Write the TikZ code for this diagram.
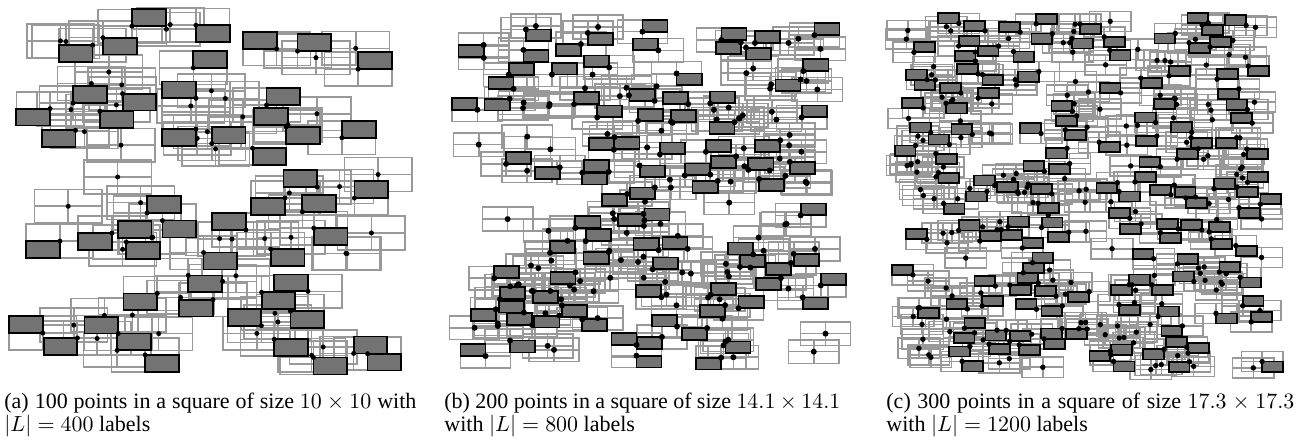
\documentclass[tikz,border=0pt]{standalone}
\usepackage{fontspec}
\setmainfont{Liberation Serif}
\definecolor{candgray}{gray}{0.6}
\definecolor{selfill}{gray}{0.45}
\makeatletter
\newdimen\lb@x \newdimen\lb@y \newdimen\lb@cx \newdimen\lb@cy \newdimen\lb@d
\newcount\lb@n \newcount\lb@k \newcount\lb@N
\newif\iflb@clash \newif\iflb@done
% overlap test of candidate with an already chosen label
\protected\def\lb@rectcheck#1#2{%
  \iflb@clash\else
  \lb@d=\dimexpr#1pt-\lb@cx\relax
  \ifdim\lb@d<1pt \ifdim\lb@d>-1pt
    \lb@d=\dimexpr#2pt-\lb@cy\relax
    \ifdim\lb@d<.5pt \ifdim\lb@d>-.5pt \lb@clashtrue \fi\fi
  \fi\fi\fi}
% test whether a point lies inside the candidate
\protected\def\lb@ptcheck#1#2#3{%
  \iflb@clash\else
  \lb@d=\dimexpr#1pt-\lb@cx\relax
  \ifdim\lb@d>0pt \ifdim\lb@d<1pt
    \lb@d=\dimexpr#2pt-\lb@cy\relax
    \ifdim\lb@d>0pt \ifdim\lb@d<.5pt \lb@clashtrue \fi\fi
  \fi\fi\fi}
\protected\def\lb@rectdraw#1#2{\filldraw[selbox] (#1,#2) rectangle (#1+1,#2+.5);}
\protected\def\lb@candraw#1#2#3{\draw[candbox] (#1-1,#2-.5) rectangle (#1+1,#2+.5)
   (#1-1,#2) -- (#1+1,#2) (#1,#2-.5) -- (#1,#2+.5);}
\protected\def\lb@dotdraw#1#2#3{\fill (#1,#2) circle[radius=\lb@rad];}
\let\lb@R\lb@rectcheck
\let\lb@P\lb@candraw
\def\lb@setcand{%
  \lb@cx=\lb@x \lb@cy=\lb@y
  \ifodd\lb@k \advance\lb@cx -1pt \fi
  \ifnum\lb@k>1 \advance\lb@cy -.5pt \fi}
\def\lb@trycand{%
  \iflb@done\else
    \lb@setcand \lb@clashfalse \lb@sel
    \iflb@clash\else \let\lb@P\lb@ptcheck \lb@pts \fi
    \iflb@clash\else
      \global\lb@donetrue
      \xdef\lb@sel{\lb@sel\lb@R{\strip@pt\lb@cx}{\strip@pt\lb@cy}}%
    \fi
    \advance\lb@k 1 \ifnum\lb@k>3 \lb@k=0 \fi
  \fi}
\protected\def\lb@selpt#1#2#3{%
  \ifnum#3<4
    \lb@x=#1pt \lb@y=#2pt \lb@k=#3\relax
    \global\lb@donefalse
    \lb@trycand\lb@trycand\lb@trycand\lb@trycand
  \fi
  \let\lb@P\lb@selpt}
\def\lb@size{10}
\def\lb@q{4}
\def\lb@iter{%
  \pgfmathsetmacro\lb@tx{rnd*\lb@size}%
  \pgfmathsetmacro\lb@ty{rnd*\lb@size}%
  \pgfmathtruncatemacro\lb@ts{floor(rnd*\lb@q)}%
  \xdef\lb@pts{\lb@pts\lb@P{\lb@tx}{\lb@ty}{\lb@ts}}%
  \advance\lb@n 1
  \ifnum\lb@n<\lb@N \expandafter\lb@iter\fi}
\newcommand\labelpanel[4]{% N, size, dot radius, 4/probability of a label
  \gdef\lb@pts{}\gdef\lb@sel{}%
  \def\lb@size{#2}\def\lb@q{#4}\lb@N=#1\relax \lb@n=0
  \let\lb@R\lb@rectcheck \let\lb@P\lb@candraw
  \lb@iter
  \let\lb@P\lb@selpt \lb@pts
  \def\lb@rad{#3}%
  \let\lb@P\lb@candraw \lb@pts
  \let\lb@R\lb@rectdraw \lb@sel
  \let\lb@P\lb@dotdraw \lb@pts
  \let\lb@R\lb@rectcheck \let\lb@P\lb@candraw}
\makeatother
\tikzset{
  candbox/.style={draw=candgray, line width=0.8pt},
  selbox/.style={fill=selfill, draw=black, line width=0.9pt},
  captext/.style={anchor=base west, inner sep=0pt, font=\fontsize{11}{13}\selectfont}
}
\begin{document}
\begin{tikzpicture}[x=0.5pt, y=-0.5pt]
\useasboundingbox (0,0) rectangle (1301,441);
\pgfmathsetseed{4711}
\begin{scope}[shift={(41.75,23.9)}, x=16.875pt, y=-16.85pt]
  \labelpanel{100}{10}{1.25pt}{6.3}
\end{scope}
\begin{scope}[shift={(472.1,25.9)}, x=12.55pt, y=-11.85pt]
  \labelpanel{200}{14.1}{1.5pt}{7}
\end{scope}
\begin{scope}[shift={(904.8,21.1)}, x=10.41pt, y=-10.08pt]
  \labelpanel{300}{17.3}{1.35pt}{7.3}
\end{scope}
\node[captext] (capa1) at (4,408) {\makebox[206pt][s]{(a) 100 points in a square of size $10\times10$ with}};
\node[captext] (capa2) at (4,431) {$|L|=400$ labels};
\node[captext] (capb1) at (444,408) {\makebox[198pt][s]{(b) 200 points in a square of size $14.1\times14.1$}};
\node[captext] (capb2) at (444,431) {with $|L|=800$ labels};
\node[captext] (capc1) at (886,408) {\makebox[204pt][s]{(c) 300 points in a square of size $17.3\times17.3$}};
\node[captext] (capc2) at (886,431) {with $|L|=1200$ labels};
\end{tikzpicture}
\end{document}
